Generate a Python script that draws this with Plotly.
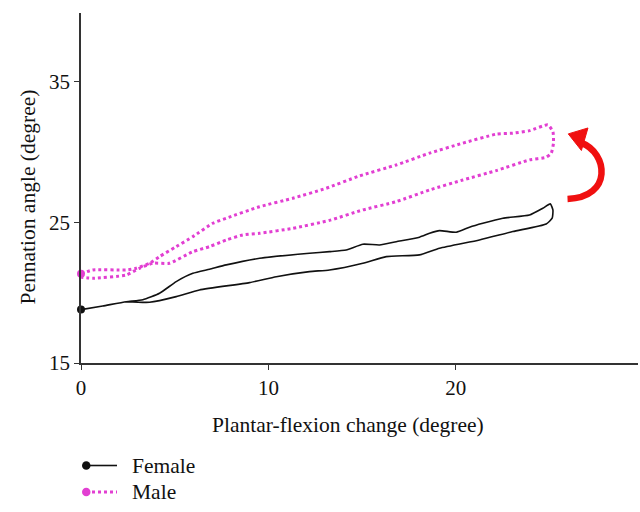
import plotly.graph_objects as go

# Female loop (x: plantar-flexion change, y: pennation angle)
female_x = [0.0, 1.16, 2.41, 3.3, 4.19, 5.08, 5.97, 6.86, 7.75, 9.53, 12.19, 13.26, 14.15, 15.04,
            15.93, 16.82, 18.06, 18.6, 19.13, 20.02, 20.73, 21.44, 22.51, 23.93, 24.64, 25.04,
            25.18, 25.14, 24.82, 23.04, 21.26, 19.13, 18.06, 16.29, 15.04, 13.26, 12.19, 10.42,
            8.99, 6.32, 5.08, 3.66, 2.41]
female_y = [18.8, 19.06, 19.36, 19.5, 19.96, 20.79, 21.38, 21.67, 21.98, 22.45, 22.81, 22.92, 23.04, 23.45,
            23.4, 23.63, 23.95, 24.23, 24.42, 24.3, 24.66, 24.94, 25.3, 25.53, 26.01, 26.32,
            25.89, 25.3, 24.89, 24.35, 23.75, 23.16, 22.69, 22.57, 22.1, 21.62, 21.5, 21.14,
            20.72, 20.2, 19.72, 19.32, 19.36]

# Male loop
male_x = [0.0, 0.63, 2.41, 2.94, 3.66, 4.19, 5.08, 5.97, 7.03, 7.75, 9.53, 11.3, 13.08, 14.86,
          16.82, 18.6, 20.37, 22.16, 23.04, 23.93, 24.91, 25.18, 25.21, 25.09, 24.82,
          23.93, 22.16, 20.37, 18.6, 16.82, 15.04, 13.26, 11.3, 9.53, 8.63, 7.75, 6.86,
          5.97, 4.72, 3.83, 3.12, 2.41, 0.63, 0.01]
male_y = [21.35, 21.62, 21.62, 21.74, 22.1, 22.57, 23.28, 23.99, 24.94, 25.3, 26.12, 26.72, 27.43, 28.31,
          29.09, 29.93, 30.64, 31.28, 31.35, 31.53, 31.94, 31.46, 30.64, 29.93, 29.64,
          29.45, 28.69, 28.02, 27.31, 26.48, 25.89, 25.15, 24.58, 24.23, 24.11, 23.75, 23.28,
          22.92, 22.1, 22.1, 21.74, 21.26, 21.03, 21.1]

series_names = ["Female", "Male"]
x_ticks = [0, 10, 20]
y_ticks = [15, 25, 35]

BLACK = "#111111"
MAGENTA = "#E23FD2"
RED = "#F01010"
FONT = "Liberation Serif"

fig = go.Figure()
fig.add_trace(go.Scatter(x=female_x, y=female_y, mode="lines", name=series_names[0],
                         line=dict(color=BLACK, width=1.6, shape="spline", smoothing=0.5),
                         showlegend=False, cliponaxis=False))
fig.add_trace(go.Scatter(x=male_x, y=male_y, mode="lines", name=series_names[1],
                         line=dict(color=MAGENTA, width=3, dash="dot", shape="spline", smoothing=0.5),
                         showlegend=False, cliponaxis=False))
fig.add_trace(go.Scatter(x=[female_x[0]], y=[female_y[0]], mode="markers", showlegend=False,
                         marker=dict(color=BLACK, size=8), cliponaxis=False))
fig.add_trace(go.Scatter(x=[male_x[0]], y=[male_y[0]], mode="markers", showlegend=False,
                         marker=dict(color=MAGENTA, size=8), cliponaxis=False))

# Curved red arrow (decoration)
fig.add_shape(type="path", xref="x", yref="y",
              path="M 26.71,30.66 C 28.09,29.95 28.41,26.81 25.96,26.67",
              line=dict(color=RED, width=6.5))
fig.add_shape(type="path", xref="x", yref="y",
              path="M 26.0,31.3 L 27.05,31.72 L 26.7,30.12 Z",
              fillcolor=RED, line=dict(color=RED, width=1))

# Custom legend below the chart (paper coords)
W, H = 557.0, 350.0
def px(xp):
    return (xp - 81) / W
def py(yp):
    return (363 - yp) / H

legend_rows = [(465.5, BLACK, "solid"), (492.0, MAGENTA, "dot")]
for (yy, col, dash), name in zip(legend_rows, series_names):
    fig.add_shape(type="line", xref="paper", yref="paper",
                  x0=px(86), x1=px(117), y0=py(yy), y1=py(yy),
                  line=dict(color=col, width=1.6 if dash == "solid" else 3, dash=dash))
    fig.add_shape(type="circle", xref="paper", yref="paper",
                  x0=px(82), x1=px(90.5), y0=py(yy - 4.25), y1=py(yy + 4.25),
                  fillcolor=col, line=dict(color=col, width=0))
    fig.add_annotation(text=name, xref="paper", yref="paper", x=px(130), y=py(yy),
                       xanchor="left", yanchor="middle", showarrow=False,
                       font=dict(family=FONT, size=21.5, color=BLACK))

# Axis titles as annotations for exact placement
fig.add_annotation(text="Plantar-flexion change (degree)", xref="paper", yref="paper",
                   x=px(347.5), y=py(425), xanchor="center", yanchor="middle", showarrow=False,
                   font=dict(family=FONT, size=21.5, color=BLACK))
fig.add_annotation(text="Pennation angle (degree)", xref="paper", yref="paper",
                   x=px(27), y=py(197.5), xanchor="center", yanchor="middle", showarrow=False,
                   textangle=-90, font=dict(family=FONT, size=21.5, color=BLACK))

axis_common = dict(showgrid=False, zeroline=False, showline=True, linecolor="#333333", linewidth=1.5,
                   ticks="outside", ticklen=5, tickwidth=1.2, tickcolor="#333333",
                   tickfont=dict(family=FONT, size=21, color=BLACK))
fig.update_xaxes(range=[0, 29.72], tickvals=x_ticks, ticktext=[str(v) for v in x_ticks], **axis_common)
fig.update_yaxes(range=[15, 39.9], tickvals=y_ticks, ticktext=[str(v) for v in y_ticks], **axis_common)

fig.update_layout(width=640, height=512, margin=dict(l=81, r=2, t=13, b=149),
                  plot_bgcolor="white", paper_bgcolor="white",
                  font=dict(family=FONT, size=21, color=BLACK))

fig.write_html("out.html", config={"displayModeBar": False},
               post_script="document.body.style.margin='0';")
